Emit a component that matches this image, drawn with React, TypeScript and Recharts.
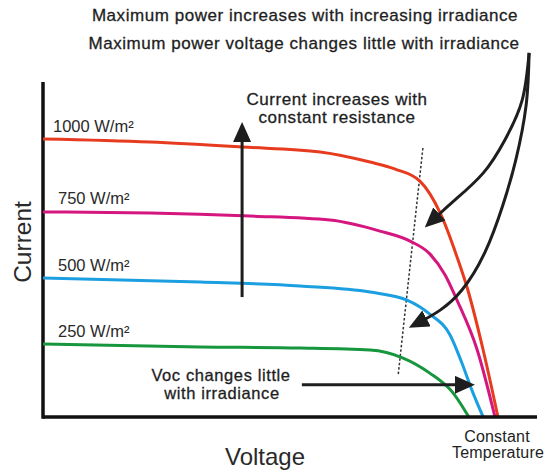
import { LineChart, Line, XAxis, YAxis, ReferenceLine } from 'recharts';

// I-V curves, voltage / current in chart units (0-100 along each axis)
const redV = [0, 21.7, 40.3, 56.1, 66.2, 71.3, 76.3, 80.4, 83.8, 86.0, 89.1, 92.1];
const redI = [83.0, 82.1, 80.6, 79.1, 76.1, 74.0, 70.4, 60.9, 47.8, 37.9, 20.0, 0];
const magentaV = [0, 21.7, 41.9, 58.1, 68.2, 74.3, 78.3, 81.4, 83.8, 87.9, 91.5];
const magentaI = [61.2, 60.9, 60.0, 58.8, 55.5, 52.5, 48.7, 42.4, 34.9, 20.0, 0];
const blueV = [0, 31.8, 52.0, 66.2, 73.7, 78.3, 82.4, 84.8, 86.8, 89.1];
const blueI = [41.5, 40.3, 39.1, 37.3, 34.9, 30.7, 24.5, 16.1, 8.1, 0];
const greenV = [0, 31.8, 52.0, 66.2, 72.9, 78.3, 83.0, 86.2];
const greenI = [21.8, 20.9, 20.6, 20.0, 17.6, 13.1, 7.2, 0];

const irradianceLabels = ['1000 W/m²', '750 W/m²', '500 W/m²', '250 W/m²'];

// annotation arrows
const upArrowV = [40.3, 40.3];
const upArrowI = [35.8, 83.0];
const vocArrowV = [52.4, 84.0];
const vocArrowI = [9.6, 9.6];
const mppArrow1V = [98.4, 97.0, 93.5, 89.1, 83.4, 79.8];
const mppArrow1I = [108.7, 94.6, 82.7, 72.8, 64.8, 60.0];
const mppArrow2V = [98.4, 97.8, 95.7, 93.1, 89.5, 84.8, 80.4, 77.1];
const mppArrow2I = [108.7, 93.1, 76.7, 63.3, 49.3, 37.9, 31.9, 29.0];
const mppLineV = [76.9, 71.9];
const mppLineI = [80.3, 12.5];

const zip = (v: number[], i: number[]) => v.map((x, k) => ({ v: x, i: i[k] }));

const FONT = '"Liberation Sans", Arial, Helvetica, sans-serif';
const INK = '#1e1e1e';

export default function App() {
  const series = [
    { name: irradianceLabels[0], color: '#e63b1f', data: zip(redV, redI) },
    { name: irradianceLabels[1], color: '#d5167f', data: zip(magentaV, magentaI) },
    { name: irradianceLabels[2], color: '#1c9fe0', data: zip(blueV, blueI) },
    { name: irradianceLabels[3], color: '#16963d', data: zip(greenV, greenI) },
  ];
  const arrows = [
    { key: 'up', data: zip(upArrowV, upArrowI), type: 'linear' as const },
    { key: 'voc', data: zip(vocArrowV, vocArrowI), type: 'linear' as const },
    { key: 'mpp1', data: zip(mppArrow1V, mppArrow1I), type: 'natural' as const },
    { key: 'mpp2', data: zip(mppArrow2V, mppArrow2I), type: 'natural' as const },
  ];

  return (
    <div style={{ position: 'absolute', left: 0, top: 0, width: 549, height: 472, background: '#fff' }}>
      <svg width={0} height={0} style={{ position: 'absolute' }}>
        <defs>
          <marker id="arrowHead" viewBox="0 0 20 18" refX={3} refY={9} markerWidth={20} markerHeight={18}
            orient="auto" markerUnits="userSpaceOnUse">
            <path d="M0,0 L20,9 L0,18 z" fill={INK} />
          </marker>
        </defs>
      </svg>
      <LineChart width={549} height={472} margin={{ top: 15, right: 12, left: 43, bottom: 0 }}>
        <XAxis type="number" dataKey="v" domain={[0, 100]} allowDataOverflow height={55} tick={false}
          tickLine={false} axisLine={{ stroke: '#111', strokeWidth: 3.5 }} />
        <YAxis type="number" dataKey="i" domain={[0, 120]} allowDataOverflow hide />
        <ReferenceLine segment={[{ x: 0, y: -0.5 }, { x: 0, y: 100 }]} stroke="#111" strokeWidth={3.5} ifOverflow="visible" />
        <ReferenceLine segment={[{ x: mppLineV[0], y: mppLineI[0] }, { x: mppLineV[1], y: mppLineI[1] }]}
          stroke="#333" strokeWidth={1.5} strokeDasharray="2.5 2" ifOverflow="visible" />
        {series.map((s) => (
          <Line key={s.name} data={s.data} dataKey="i" type="monotone" stroke={s.color} strokeWidth={3}
            dot={false} activeDot={false} isAnimationActive={false} />
        ))}
        {arrows.map((a) => (
          <Line key={a.key} data={a.data} dataKey="i" type={a.type} stroke={INK} strokeWidth={3}
            dot={false} activeDot={false} isAnimationActive={false} markerEnd="url(#arrowHead)" />
        ))}
      </LineChart>
      <svg width={549} height={472} style={{ position: 'absolute', left: 0, top: 0, pointerEvents: 'none' }}
        fontFamily={FONT}>
        <g fill={INK} fontSize={17} letterSpacing={0.55} textAnchor="middle" stroke={INK} strokeWidth={0.3}>
          <text x={305} y={21}>Maximum power increases with increasing irradiance</text>
          <text x={304} y={49}>Maximum power voltage changes little with irradiance</text>
          <text x={337} y={105}>Current increases with</text>
          <text x={337} y={123}>constant resistance</text>
        </g>
        <g fill={INK} fontSize={16.5} letterSpacing={0.6} textAnchor="middle" stroke={INK} strokeWidth={0.3}>
          <text x={221} y={381}>Voc changes little</text>
          <text x={222} y={399}>with irradiance</text>
        </g>
        <g fill={INK} fontSize={16} letterSpacing={0.2} textAnchor="middle">
          <text x={497} y={442}>Constant</text>
          <text x={498} y={458}>Temperature</text>
        </g>
        <g fill="#2a2a2a" fontSize={16.5}>
          <text x={53} y={132}>{irradianceLabels[0]}</text>
          <text x={58} y={204}>{irradianceLabels[1]}</text>
          <text x={58} y={271}>{irradianceLabels[2]}</text>
          <text x={58} y={337}>{irradianceLabels[3]}</text>
        </g>
        <text x={265} y={465} fontSize={24} textAnchor="middle" fill="#2a2a2a">Voltage</text>
        <text x={31} y={242} fontSize={24.5} textAnchor="middle" fill="#2a2a2a" transform="rotate(-90 31 242)">Current</text>
      </svg>
    </div>
  );
}
